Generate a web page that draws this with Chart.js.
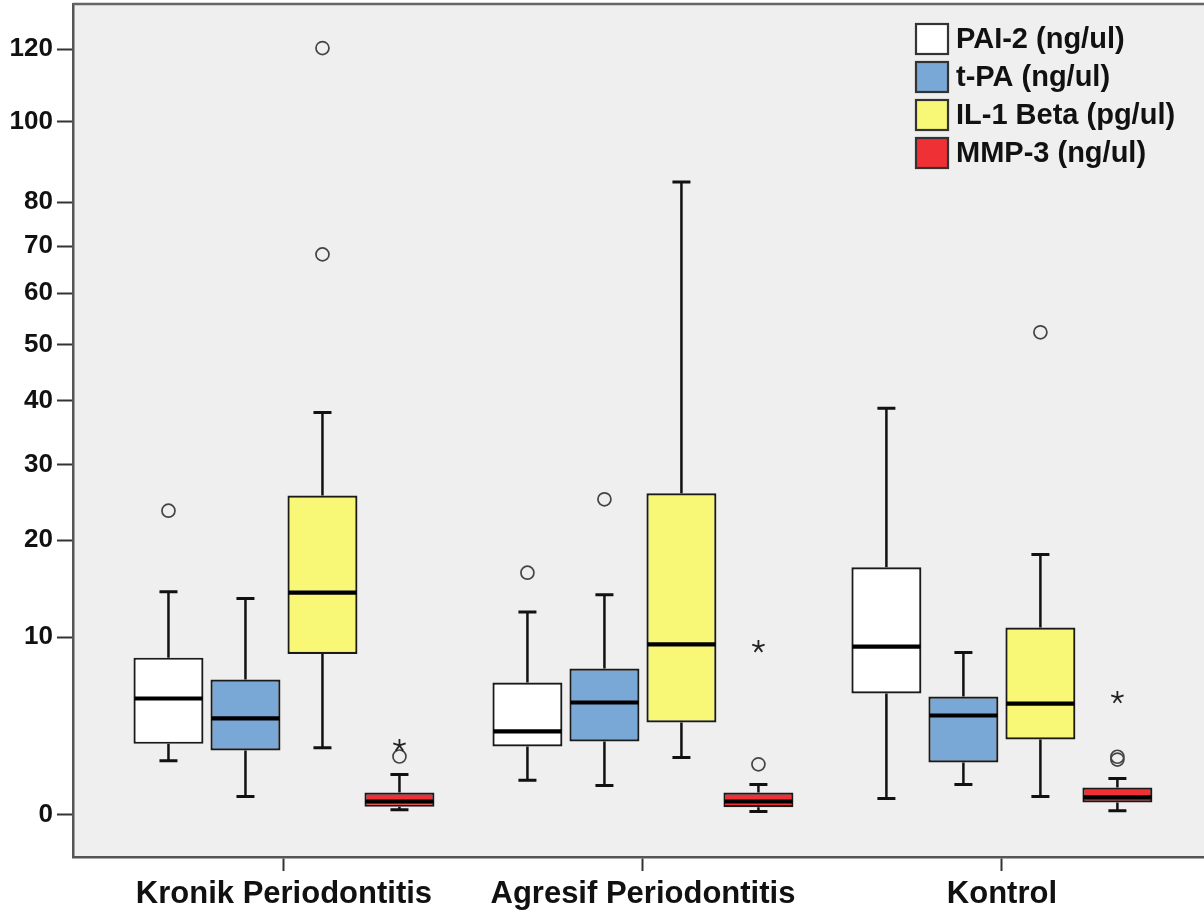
<!DOCTYPE html>
<html>
<head>
<meta charset="utf-8">
<script src="https://cdn.jsdelivr.net/npm/chart.js@4.4.1/dist/chart.umd.min.js"></script>
<style>
  html, body { margin: 0; padding: 0; background: #ffffff; overflow: hidden; }
  #wrap { position: relative; width: 1204px; height: 916px; }
</style>
</head>
<body>
<div id="wrap"><canvas id="c"></canvas></div>
<script>
// ---- data ----
const categories = ['Kronik Periodontitis', 'Agresif Periodontitis', 'Kontrol'];
const seriesNames = ['PAI-2 (ng/ul)', 't-PA (ng/ul)', 'IL-1 Beta (pg/ul)', 'MMP-3 (ng/ul)'];
const seriesColors = ['#ffffff', '#79a8d6', '#f9f776', '#ef3035'];
const yTickLabels = [0, 10, 20, 30, 40, 50, 60, 70, 80, 100, 120];

// rows: PAI-2, t-PA, IL-1 Beta, MMP-3 ; columns: categories
const lowerWhisker = [[1.9, 1.1, 0.46], [0.53, 0.9, 0.94], [2.5, 2.05, 0.53], [0.13, 0.08, 0.1]];
const quartile1    = [[2.7, 2.57, 5.67], [2.37, 2.82, 1.82], [8.6, 3.85, 2.92], [0.21, 0.2, 0.34]];
const medians      = [[5.33, 3.35, 9.2], [4.09, 5.07, 4.26], [14.2, 9.38, 5.0], [0.37, 0.37, 0.5]];
const quartile3    = [[8.3, 6.43, 16.9], [6.64, 7.46, 5.46], [25.7, 26.0, 10.86], [0.66, 0.66, 0.83]];
const upperWhisker = [[14.3, 12.3, 38.8], [13.6, 14.0, 8.72], [38.1, 84.8, 18.35], [1.32, 0.94, 1.16]];
const outliers     = [[[23.7], [16.3], []], [[], [25.2], []], [[68.2, 120.3], [], [52.3]], [[2.09], [1.74], [1.95, 2.08]]];
const extremes     = [[[], [], []], [[], [], []], [[], [], []], [[2.62], [9.2], [5.4]]];

// y axis uses a square-root-of-(v+1) transform, as in the reference
const tr = v => Math.sqrt(v + 1);

const FONT = "'Liberation Sans', Arial, Helvetica, sans-serif";

const datasets = seriesNames.map((name, s) => ({
  type: 'bar',
  label: name,
  data: categories.map((c, g) => ({ x: g + 1, y: [tr(quartile1[s][g]), tr(quartile3[s][g])] })),
  backgroundColor: seriesColors[s],
  borderColor: '#1a1a1a',
  borderWidth: 2.2,
  borderSkipped: false,
  categoryPercentage: 0.858,
  barPercentage: 0.909
}));

const boxParts = {
  id: 'boxParts',
  beforeDraw(chart) {
    const { ctx, chartArea: a } = chart;
    ctx.save();
    ctx.fillStyle = '#efefef';
    ctx.fillRect(a.left, a.top, a.right - a.left, a.bottom - a.top);
    ctx.restore();
  },
  beforeDatasetsDraw(chart) {
    // whiskers (drawn under boxes)
    const { ctx } = chart;
    const y = chart.scales.y;
    ctx.save();
    ctx.strokeStyle = '#111111';
    seriesNames.forEach((n, s) => {
      const meta = chart.getDatasetMeta(s);
      meta.data.forEach((bar, g) => {
        const cx = bar.x;
        const yq1 = y.getPixelForValue(tr(quartile1[s][g]));
        const yq3 = y.getPixelForValue(tr(quartile3[s][g]));
        const ylo = y.getPixelForValue(tr(lowerWhisker[s][g]));
        const yhi = y.getPixelForValue(tr(upperWhisker[s][g]));
        ctx.lineWidth = 2.5;
        ctx.beginPath();
        ctx.moveTo(cx, yq3); ctx.lineTo(cx, yhi);
        ctx.moveTo(cx, yq1); ctx.lineTo(cx, ylo);
        ctx.stroke();
        ctx.lineWidth = 3;
        ctx.beginPath();
        ctx.moveTo(cx - 9, yhi); ctx.lineTo(cx + 9, yhi);
        ctx.moveTo(cx - 9, ylo); ctx.lineTo(cx + 9, ylo);
        ctx.stroke();
      });
    });
    ctx.restore();
  },
  afterDatasetsDraw(chart) {
    const { ctx } = chart;
    const y = chart.scales.y;
    ctx.save();
    seriesNames.forEach((n, s) => {
      const meta = chart.getDatasetMeta(s);
      meta.data.forEach((bar, g) => {
        const cx = bar.x, w = bar.width;
        // median
        const ym = y.getPixelForValue(tr(medians[s][g]));
        ctx.strokeStyle = '#000000';
        ctx.lineWidth = 4.2;
        ctx.beginPath();
        ctx.moveTo(cx - w / 2 + 1, ym); ctx.lineTo(cx + w / 2 - 1, ym);
        ctx.stroke();
        // outliers (circles)
        ctx.strokeStyle = '#444444';
        ctx.lineWidth = 1.7;
        outliers[s][g].forEach(v => {
          const py = y.getPixelForValue(tr(v));
          ctx.beginPath();
          ctx.arc(cx, py, 6.5, 0, Math.PI * 2);
          ctx.stroke();
        });
        // extremes (asterisks)
        ctx.strokeStyle = '#222222';
        ctx.lineWidth = 1.8;
        extremes[s][g].forEach(v => {
          const py = y.getPixelForValue(tr(v));
          ctx.beginPath();
          for (let k = 0; k < 5; k++) {
            const ang = -Math.PI / 2 + k * 2 * Math.PI / 5;
            ctx.moveTo(cx, py);
            ctx.lineTo(cx + 6.5 * Math.cos(ang), py + 6.5 * Math.sin(ang));
          }
          ctx.stroke();
        });
      });
    });
    ctx.restore();
  },
  afterDraw(chart) {
    const { ctx, chartArea: a } = chart;
    ctx.save();
    // top frame line
    ctx.strokeStyle = '#666666';
    ctx.lineWidth = 2.5;
    ctx.beginPath();
    ctx.moveTo(a.left, a.top); ctx.lineTo(a.right, a.top);
    ctx.stroke();
    // legend (inside the plot, top right)
    ctx.font = 'bold 29px ' + FONT;
    ctx.textBaseline = 'middle';
    ctx.textAlign = 'left';
    seriesNames.forEach((name, i) => {
      const bx = 916, by = 24 + i * 38;
      ctx.fillStyle = seriesColors[i];
      ctx.fillRect(bx, by, 32, 30);
      ctx.strokeStyle = '#333333';
      ctx.lineWidth = 2.2;
      ctx.strokeRect(bx, by, 32, 30);
      ctx.fillStyle = '#111111';
      ctx.fillText(name, 956, by + 16);
    });
    ctx.restore();
  }
};

new Chart(document.getElementById('c'), {
  data: { datasets },
  plugins: [boxParts],
  options: {
    responsive: true,
    maintainAspectRatio: false,
    animation: false,
    layout: { padding: { top: 4, right: 0, left: 0, bottom: 0 } },
    plugins: { legend: { display: false }, tooltip: { enabled: false } },
    scales: {
      x: {
        type: 'linear',
        min: 0.4123,
        max: 3.563,
        offset: false,
        afterBuildTicks: scale => { scale.ticks = categories.map((c, i) => ({ value: i + 1 })); },
        afterFit: scale => { scale.height = 59; scale.paddingLeft = 0; scale.paddingRight = 0; },
        grid: { display: true, drawOnChartArea: false, drawTicks: true, tickLength: 14, tickColor: '#333333', tickWidth: 2, offset: false },
        border: { display: true, color: '#555555', width: 2.5 },
        ticks: {
          autoSkip: false, maxRotation: 0, padding: 5,
          color: '#111111',
          font: { family: FONT, size: 31, weight: 'bold' },
          callback: (v, i) => categories[i]
        }
      },
      y: {
        type: 'linear',
        min: 0.445,
        max: 11.59,
        afterBuildTicks: scale => { scale.ticks = yTickLabels.map(v => ({ value: tr(v) })); },
        afterFit: scale => { scale.width = 73; scale.paddingTop = 0; scale.paddingBottom = 0; },
        grid: { display: true, drawOnChartArea: false, drawTicks: true, tickLength: 16, tickColor: '#333333', tickWidth: 2 },
        border: { display: true, color: '#555555', width: 2.5 },
        ticks: {
          autoSkip: false, padding: 4,
          color: '#111111',
          font: { family: FONT, size: 26, weight: 'bold' },
          callback: (v, i) => String(yTickLabels[i])
        }
      }
    }
  }
});
</script>
</body>
</html>
